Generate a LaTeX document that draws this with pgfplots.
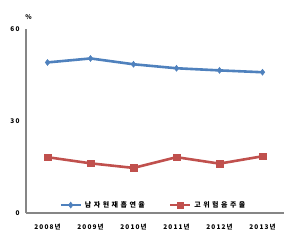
\documentclass[border=0pt]{standalone}
\usepackage{pgfplots}
\pgfplotsset{compat=1.18}
\usepackage{fontspec}
\setmainfont{Noto Sans CJK KR}
\newfontfamily\widefont[LetterSpace=18]{Noto Sans CJK KR}
\newfontfamily\legfont[LetterSpace=36]{Noto Sans CJK KR}
\definecolor{sblue}{HTML}{4F81BD}
\definecolor{sred}{HTML}{C0504D}
\definecolor{agray}{HTML}{868686}
\begin{document}
\begin{tikzpicture}
\useasboundingbox (0,0) rectangle (286bp,252bp);
\begin{axis}[
  at={(26bp,39bp)}, anchor=south west,
  scale only axis, width=258bp, height=184bp,
  xmin=-0.5, xmax=5.5, ymin=0, ymax=60,
  xtick={0,1,2,3,4,5},
  xticklabels={2008년,2009년,2010년,2011년,2012년,2013년},
  ytick={0,30,60},
  axis x line*=bottom, axis y line*=left,
  axis line style={draw=agray, line width=2.2bp, -},
  major tick length=0pt,
  tick label style={font=\widefont\fontsize{6.5}{7}\selectfont\bfseries},
  /pgf/number format/assume math mode=true,
  xticklabel style={yshift=-8bp},
  yticklabel style={xshift=-3bp},
  legend style={draw=none, fill=none, at={(0.494,0.043)}, anchor=center,
    font=\legfont\fontsize{7}{8}\selectfont\bfseries, column sep=1bp,
    /tikz/every even column/.append style={column sep=22bp}},
  legend columns=2,
  legend image code/.code={\draw[#1, mark repeat=2, mark phase=2] plot coordinates {(0cm,0cm) (0.35cm,0cm) (0.7cm,0cm)};},
  clip=false,
]
\addplot[sblue, line width=2.6bp, mark=diamond*, mark size=3bp, mark options={line width=0.5bp}]
  coordinates {(0,49.1) (1,50.4) (2,48.5) (3,47.2) (4,46.5) (5,45.9)};
\addlegendentry{남자현재흡연율}
\addplot[sred, line width=2.6bp, mark=square*, mark size=3.3bp, mark options={line width=0.5bp}]
  coordinates {(0,18.2) (1,16.2) (2,14.7) (3,18.2) (4,16.1) (5,18.5)};
\addlegendentry{고위험음주율}
\node[font=\fontsize{6.5}{7}\selectfont\bfseries] at (rel axis cs:0.01,1.065) {\%};
\end{axis}
\end{tikzpicture}
\end{document}
